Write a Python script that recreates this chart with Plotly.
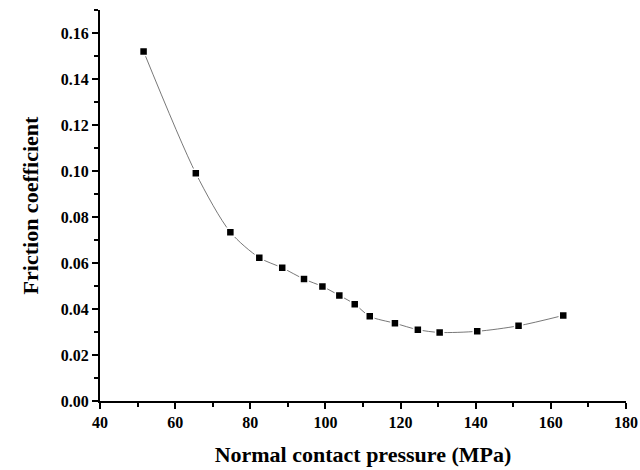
import plotly.graph_objects as go

pressure = [51.6, 65.5, 74.7, 82.4, 88.5, 94.3, 99.2, 103.7, 107.8, 111.8,
            118.5, 124.6, 130.4, 140.4, 151.4, 163.3]
friction = [0.152, 0.099, 0.0734, 0.0623, 0.0579, 0.0530, 0.0498, 0.0459, 0.0421, 0.0368,
            0.0338, 0.0310, 0.0298, 0.0303, 0.0327, 0.0372]

x_ticks = [40, 60, 80, 100, 120, 140, 160, 180]
y_ticks = [0.00, 0.02, 0.04, 0.06, 0.08, 0.10, 0.12, 0.14, 0.16]

font_family = "Liberation Serif, Times New Roman, serif"

fig = go.Figure()
fig.add_trace(go.Scatter(
    x=pressure, y=friction, mode="lines",
    line=dict(color="#555555", width=0.8, shape="spline", smoothing=0.8),
    showlegend=False, hoverinfo="skip"))
fig.add_trace(go.Scatter(
    x=pressure, y=friction, mode="markers",
    marker=dict(symbol="square", size=8, color="black",
                line=dict(color="white", width=1.5)),
    showlegend=False))

axis_common = dict(
    showline=True, linecolor="black", linewidth=2,
    ticks="outside", ticklen=6, tickwidth=2, tickcolor="black",
    showgrid=False, zeroline=False, mirror=False, automargin=False,
    tickfont=dict(family=font_family, size=16, color="black", weight="bold"),
)

fig.update_xaxes(
    range=[40, 180], tickvals=x_ticks, ticktext=[str(v) for v in x_ticks],
    minor=dict(ticks="outside", ticklen=4, tickwidth=1.5, tickcolor="black", dtick=10, tick0=40),
    title=dict(text="<b>Normal contact pressure (MPa)</b>",
               font=dict(family=font_family, size=22, color="black"), standoff=16),
    **axis_common)
fig.update_yaxes(
    range=[0, 0.17], tickvals=y_ticks, ticktext=[f"{v:.2f}" for v in y_ticks],
    minor=dict(ticks="outside", ticklen=4, tickwidth=1.5, tickcolor="black", dtick=0.01, tick0=0),
    title=dict(text="<b>Friction coefficient</b>",
               font=dict(family=font_family, size=22, color="black"), standoff=16),
    **axis_common)

fig.update_layout(
    width=640, height=470,
    margin=dict(l=100, r=14, t=10, b=69),
    plot_bgcolor="white", paper_bgcolor="white",
)

fig.write_html("out.html", config={"displayModeBar": False},
               post_script="document.body.style.margin='0';document.body.style.overflow='hidden';")
